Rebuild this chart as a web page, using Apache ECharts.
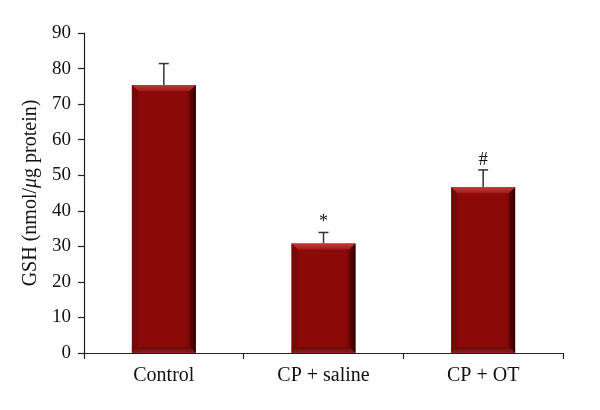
<!DOCTYPE html>
<html><head><meta charset="utf-8">
<script src="https://cdn.jsdelivr.net/npm/echarts@6/dist/echarts.min.js"></script>
<style>html,body{margin:0;padding:0;background:#fff}#c{width:600px;height:410px}</style>
</head><body><div id="c"></div>
<script>
const categories = ['Control', 'CP + saline', 'CP + OT'];
const means = [75.4, 30.8, 46.6];
const errors = [6.0, 3.1, 4.9];
const marks = ['', '*', '#'];
const yTicks = {min: 0, max: 90, interval: 10};

const FONT = 'Liberation Serif';
const chart = echarts.init(document.getElementById('c'), null, {renderer: 'canvas'});

function barItem(params, api) {
  const x = api.value(0), v = api.value(1);
  const top = api.coord([x, v]);
  const base = api.coord([x, 0]);
  const bw = api.size([1, 0])[0] * 0.4;
  const l = top[0] - bw / 2, r = top[0] + bw / 2, t = top[1], b = base[1];
  const e = 6; // bevel
  return {
    type: 'group',
    children: [
      {type: 'rect', shape: {x: l, y: t, width: bw, height: b - t},
        style: {fill: new echarts.graphic.LinearGradient(0, 0, 1, 0, [
          {offset: 0, color: '#7d0707'}, {offset: 0.15, color: '#8c0a0a'},
          {offset: 0.85, color: '#8a0909'}, {offset: 1, color: '#5a0303'}])}},
      {type: 'polygon', shape: {points: [[l, t], [r, t], [r - e, t + e], [l + e, t + e]]},
        style: {fill: new echarts.graphic.LinearGradient(0, 0, 0, 1, [
          {offset: 0, color: '#c23a3a'}, {offset: 1, color: '#a51818'}])}},
      {type: 'polygon', shape: {points: [[l, t], [l + e, t + e], [l + e, b - e], [l, b]]},
        style: {fill: '#7a0707'}},
      {type: 'polygon', shape: {points: [[r, t], [r - e, t + e], [r - e, b - e], [r, b]]},
        style: {fill: new echarts.graphic.LinearGradient(0, 0, 1, 0, [
          {offset: 0, color: '#5e0404'}, {offset: 1, color: '#300000'}])}},
      {type: 'polygon', shape: {points: [[l, b], [l + e, b - e], [r - e, b - e], [r, b]]},
        style: {fill: new echarts.graphic.LinearGradient(0, 0, 0, 1, [
          {offset: 0, color: '#6a0606'}, {offset: 1, color: '#8a2020'}])}}
    ]
  };
}

function errItem(params, api) {
  const x = api.value(0), v = api.value(1), err = api.value(2);
  const p0 = api.coord([x, v]);
  const p1 = api.coord([x, v + err]);
  const c = 5;
  const mark = marks[params.dataIndex];
  const children = [
    {type: 'line', shape: {x1: p0[0], y1: p0[1], x2: p1[0], y2: p1[1]}, style: {stroke: '#333', lineWidth: 1.5}},
    {type: 'line', shape: {x1: p1[0] - c, y1: p1[1], x2: p1[0] + c, y2: p1[1]}, style: {stroke: '#333', lineWidth: 1.5}}
  ];
  if (mark) {
    children.push({type: 'text', x: p1[0], y: p1[1] - 1,
      style: {text: mark, fill: '#111', font: '18px "' + FONT + '"', align: 'center', verticalAlign: 'bottom'}});
  }
  return {type: 'group', children};
}

chart.setOption({
  animation: false,
  grid: {left: 84, right: 37, top: 33, bottom: 57, containLabel: false},
  xAxis: {
    type: 'category', data: categories,
    axisLine: {lineStyle: {color: '#222', width: 1.2}},
    axisTick: {show: true, length: 6, lineStyle: {color: '#222', width: 1.2}},
    axisLabel: {color: '#111', fontFamily: FONT, fontSize: 20, margin: 13}
  },
  yAxis: {
    type: 'value', min: yTicks.min, max: yTicks.max, interval: yTicks.interval,
    name: '{a|GSH (nmol/}{i|μ}{a|g protein)}', nameLocation: 'middle', nameGap: 42,
    nameTextStyle: {rich: {a: {fontFamily: FONT, fontSize: 20, color: '#111'}, i: {fontFamily: FONT, fontSize: 20, fontStyle: 'italic', color: '#111'}}},
    axisLine: {show: true, lineStyle: {color: '#222', width: 1.2}},
    axisTick: {show: true, length: 6, lineStyle: {color: '#222', width: 1.2}},
    splitLine: {show: false},
    axisLabel: {color: '#111', fontFamily: FONT, fontSize: 19, margin: 13}
  },
  series: [
    {type: 'custom', renderItem: barItem, data: categories.map((c, i) => [i, means[i]]), z: 2},
    {type: 'custom', renderItem: errItem, data: categories.map((c, i) => [i, means[i], errors[i]]), z: 1}
  ]
});
</script></body></html>
